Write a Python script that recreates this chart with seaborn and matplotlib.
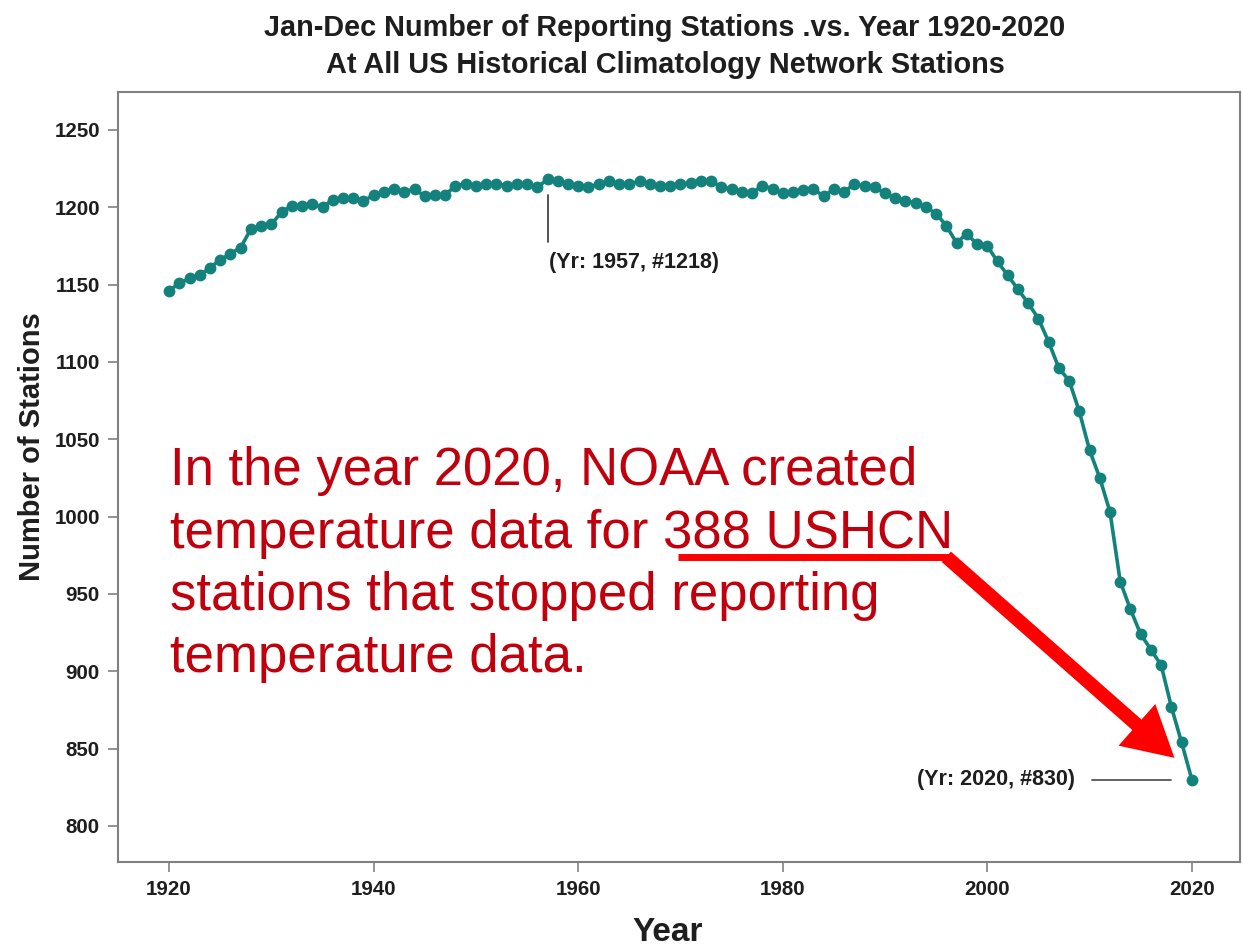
import numpy as np
import pandas as pd
import matplotlib
matplotlib.use('Agg')
import matplotlib.pyplot as plt
import seaborn as sns

years = np.arange(1920, 2021)
stations = [1146, 1151, 1154, 1156, 1161, 1166, 1170, 1174, 1186, 1188,
            1189, 1197, 1201, 1201, 1202, 1200, 1205, 1206, 1206, 1204,
            1208, 1210, 1212, 1210, 1212, 1207, 1208, 1208, 1214, 1215,
            1214, 1215, 1215, 1214, 1215, 1215, 1213, 1218, 1217, 1215,
            1214, 1213, 1215, 1217, 1215, 1215, 1217, 1215, 1214, 1214,
            1215, 1216, 1217, 1217, 1213, 1212, 1210, 1209, 1214, 1212,
            1209, 1210, 1211, 1212, 1207, 1212, 1210, 1215, 1214, 1213,
            1209, 1206, 1204, 1203, 1200, 1196, 1188, 1177, 1183, 1176,
            1175, 1165, 1156, 1147, 1138, 1128, 1113, 1096, 1088, 1068,
            1043, 1025, 1003, 958, 940, 924, 914, 904, 877, 854,
            830]

xticks = [1920, 1940, 1960, 1980, 2000, 2020]
yticks = [800, 850, 900, 950, 1000, 1050, 1100, 1150, 1200, 1250]

note_lines = ["In the year 2020, NOAA created",
              "temperature data for 388 USHCN",
              "stations that stopped reporting",
              "temperature data."]

df = pd.DataFrame({'Year': years, 'Stations': stations})

sns.set_style('white')
plt.rcParams['font.family'] = ['Liberation Sans', 'DejaVu Sans']

teal = '#13827d'
dark = '#1e1e1e'
fig = plt.figure(figsize=(12.43, 9.47), dpi=100)
ax = fig.add_axes([0.0949, 0.0898, 0.9026, 0.8131])

sns.lineplot(data=df, x='Year', y='Stations', ax=ax, color=teal, lw=2.6,
             marker='o', markersize=8.5, markeredgewidth=0, markeredgecolor=teal)

ax.set_xlim(1915.0, 2024.7)
ax.set_ylim(776.7, 1274.6)
ax.set_xticks(xticks)
ax.set_yticks(yticks)
ax.tick_params(direction='out', length=7, width=1.2, color='#808080',
               labelsize=14.8, left=True, bottom=True, pad=6)
for lab in ax.get_xticklabels() + ax.get_yticklabels():
    lab.set_fontweight('bold')
    lab.set_color(dark)
for sp in ax.spines.values():
    sp.set_color('#808080')
    sp.set_linewidth(1.5)

ax.set_xlabel('Year', fontsize=24, fontweight='bold', color=dark)
ax.xaxis.set_label_coords(0.49, -0.071)
ax.set_ylabel('Number of Stations', fontsize=21, fontweight='bold', color=dark)
ax.yaxis.set_label_coords(-0.064, 0.539)
fig.text(0.535, 0.951, 'Jan-Dec Number of Reporting Stations .vs. Year 1920-2020\n'
         'At All US Historical Climatology Network Stations',
         ha='center', va='center', fontsize=20.8, fontweight='bold', color=dark,
         linespacing=1.4)

# peak and end annotations
ax.plot([1957, 1957], [1177.5, 1208], color='#444444', lw=1.3)
ax.text(1957.15, 1164.5, '(Yr: 1957, #1218)', fontsize=15.5, fontweight='bold',
        color=dark, va='center', ha='left')
ax.plot([2010.2, 2018.0], [830, 830], color='#555555', lw=1.3)
ax.text(2008.6, 830, '(Yr: 2020, #830)', fontsize=15.5, fontweight='bold',
        color=dark, va='center', ha='right')

# red note
base_y = [1020.5, 979.7, 939.7, 899.6]
for line, yy in zip(note_lines, base_y):
    ax.text(1920.1, yy, line, fontsize=38, color='#c0000c', va='baseline', ha='left')

ax.plot([1969.8, 1996.3], [974, 974], color='#ff0000', lw=5, solid_capstyle='butt')
ax.annotate('', xy=(2018.3, 844), xytext=(1996.0, 974),
            arrowprops=dict(arrowstyle='simple,head_width=2.0,head_length=1.8,tail_width=0.5',
                            mutation_scale=20, color='#ff0000', lw=0,
                            shrinkA=0, shrinkB=0))

fig.savefig('out.png', dpi=100, facecolor='white')
